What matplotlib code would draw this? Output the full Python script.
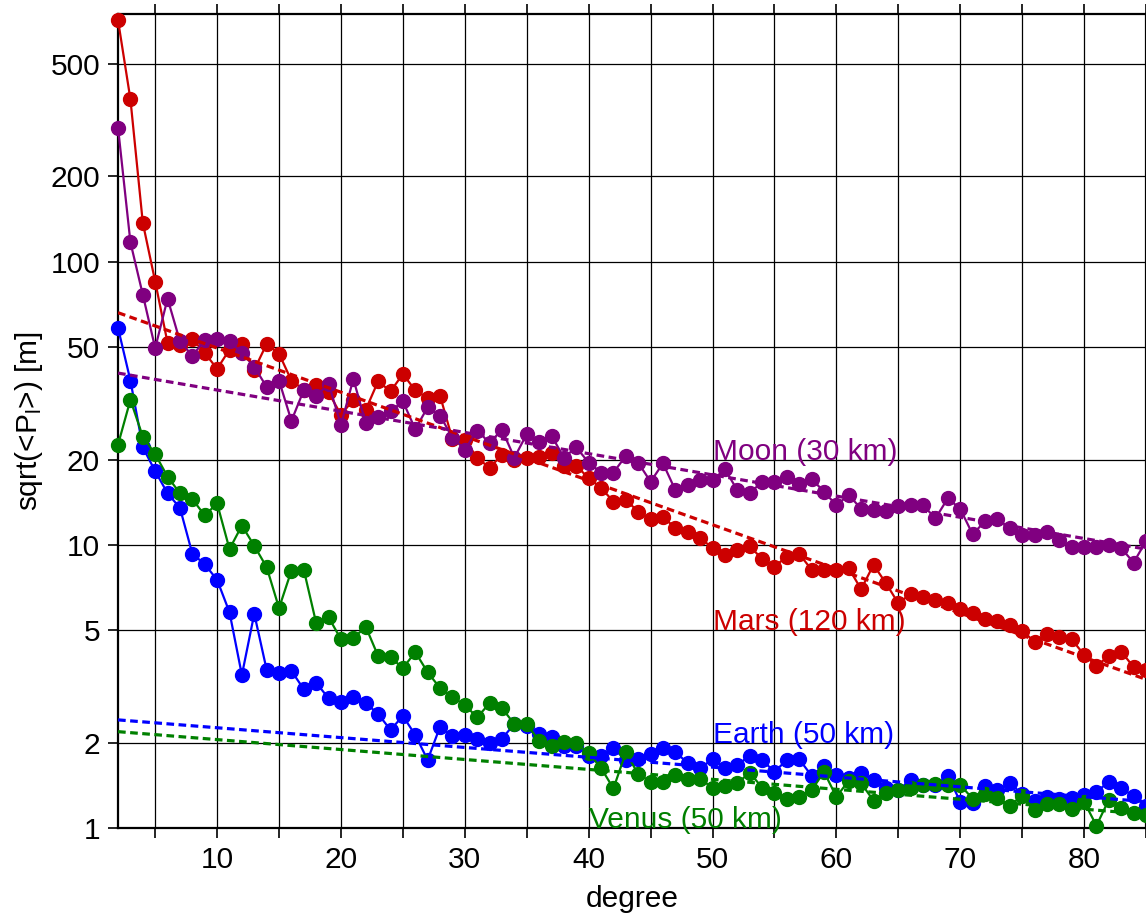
import numpy as np
import matplotlib
matplotlib.use("Agg")
import matplotlib.pyplot as plt
from matplotlib.ticker import FixedLocator, NullLocator, FixedFormatter

plt.rcParams['font.family'] = ['Liberation Sans', 'DejaVu Sans']
plt.rcParams['mathtext.default'] = 'regular'

degree = list(range(2, 86))

mars = [711, 374, 137, 85, 51.6, 50.6, 53.3, 47.6, 41.8, 48.9, 51.2, 41.5, 51.2, 47.3,
        38, 35.3, 36.6, 34.5, 28.8, 32.5, 30, 37.8, 34.8, 40.1, 35.1, 33, 33.6, 23.6,
        23.5, 20.3, 18.7, 20.8, 19.9, 20.3, 20.5, 21.1, 19.0, 19.0, 17.2, 15.9, 14.2,
        14.4, 13.1, 12.3, 12.5, 11.5, 11.1, 10.6, 9.73, 9.22, 9.6, 9.92, 8.9, 8.38,
        9.09, 9.3, 8.16, 8.13, 8.13, 8.27, 6.97, 8.5, 7.32, 6.22, 6.71, 6.57, 6.39,
        6.25, 5.93, 5.73, 5.46, 5.39, 5.22, 4.98, 4.55, 4.85, 4.74, 4.64, 4.09, 3.74,
        4.05, 4.2, 3.70, 3.62]
moon = [297, 117, 76.4, 49.5, 74, 52.3, 46.5, 52.7, 53.3, 52.3, 47.6, 42.5, 36.1, 38,
        27.4, 35.2, 33.4, 37.1, 26.5, 38.5, 26.9, 28.3, 29.6, 32.1, 25.6, 30.6, 28.6,
        23.9, 21.7, 25.3, 22.9, 25.5, 20.3, 24.6, 23.0, 24.3, 20.3, 22.1, 19.5, 18.0,
        18.0, 20.6, 19.5, 16.7, 19.4, 15.6, 16.2, 17.0, 16.9, 18.5, 15.6, 15.3, 16.6,
        16.6, 17.3, 16.4, 17.1, 15.4, 13.8, 15.0, 13.4, 13.3, 13.2, 13.7, 13.8, 13.8,
        12.4, 14.6, 13.4, 10.9, 12.1, 12.3, 11.5, 10.8, 10.8, 11.1, 10.4, 9.86, 9.86,
        9.81, 10.0, 9.73, 8.66, 10.3]
earth = [58.3, 38.0, 22.1, 18.2, 15.2, 13.5, 9.3, 8.54, 7.52, 5.78, 3.47, 5.71, 3.62,
         3.54, 3.59, 3.09, 3.26, 2.87, 2.79, 2.91, 2.76, 2.53, 2.22, 2.49, 2.13, 1.74,
         2.28, 2.11, 2.13, 2.07, 1.99, 2.07, 2.33, 2.29, 2.15, 2.09, 1.95, 1.95, 1.79,
         1.80, 1.91, 1.74, 1.75, 1.83, 1.91, 1.85, 1.70, 1.63, 1.75, 1.63, 1.67, 1.80,
         1.74, 1.58, 1.74, 1.75, 1.53, 1.65, 1.54, 1.50, 1.57, 1.48, 1.39, 1.36, 1.48,
         1.42, 1.42, 1.53, 1.24, 1.23, 1.41, 1.36, 1.44, 1.32, 1.25, 1.29, 1.27, 1.28,
         1.31, 1.34, 1.46, 1.38, 1.30, 1.20]
venus = [22.6, 32.5, 24.1, 20.9, 17.4, 15.2, 14.5, 12.7, 14.0, 9.66, 11.7, 9.92, 8.34,
         5.98, 8.11, 8.16, 5.29, 5.55, 4.64, 4.68, 5.14, 4.05, 4.01, 3.67, 4.18, 3.55,
         3.12, 2.90, 2.72, 2.46, 2.76, 2.65, 2.33, 2.33, 2.03, 1.95, 2.02, 1.99, 1.84,
         1.63, 1.38, 1.85, 1.55, 1.46, 1.45, 1.54, 1.49, 1.49, 1.39, 1.41, 1.44, 1.57,
         1.39, 1.33, 1.27, 1.29, 1.36, 1.58, 1.29, 1.47, 1.44, 1.25, 1.33, 1.36, 1.39,
         1.42, 1.43, 1.42, 1.42, 1.27, 1.32, 1.28, 1.20, 1.30, 1.16, 1.22, 1.22, 1.17,
         1.24, 1.02, 1.26, 1.18, 1.13, 1.11]

# fitted trend lines (end points)
fit_deg = [2, 85]
mars_fit = [66, 3.35]
moon_fit = [40.4, 9.66]
earth_fit = [2.41, 1.24]
venus_fit = [2.19, 1.12]

labels = ["Mars (120 km)", "Moon (30 km)", "Earth (50 km)", "Venus (50 km)"]
label_pos = [(50, 5), (50, 20), (50, 2), (40, 1)]
colors = ["#cc0000", "#800080", "#0000ff", "#008000"]

fig = plt.figure(figsize=(11.46, 9.14), dpi=100)
ax = fig.add_axes([0.103, 0.094, 0.897, 0.891])

for vals, col in zip([mars, moon, earth, venus], colors):
    ax.plot(degree, vals, '-o', color=col, lw=1.6, ms=10, zorder=3, clip_on=False)

for vals, col in zip([mars_fit, moon_fit, earth_fit, venus_fit], colors):
    ax.plot(fit_deg, vals, color=col, lw=2.3, dashes=(2.4, 1.4), zorder=4)

for lab, (x, y), col in zip(labels, label_pos, colors):
    ax.text(x, y, lab, color=col, fontsize=21.5, zorder=5)

ax.set_yscale('log')
ax.set_xlim(2, 85)
ax.set_ylim(1, 750)

yt = [1, 2, 5, 10, 20, 50, 100, 200, 500]
ax.yaxis.set_major_locator(FixedLocator(yt))
ax.yaxis.set_major_formatter(FixedFormatter([str(v) for v in yt]))
ax.yaxis.set_minor_locator(NullLocator())
ax.xaxis.set_major_locator(FixedLocator(range(10, 81, 10)))
ax.xaxis.set_minor_locator(FixedLocator(range(5, 86, 10)))

ax.grid(True, which='both', color='black', lw=0.9)
ax.tick_params(which='both', direction='out', length=7, width=1.2,
               top=True, right=True, labelsize=21.5, pad=6)
for s in ax.spines.values():
    s.set_linewidth(1.6)

ax.set_xlabel("degree", fontsize=21.5, labelpad=8)
ax.set_ylabel("sqrt(<P$_l$>) [m]", fontsize=21.5, labelpad=4)

fig.savefig("out.png", dpi=100)
